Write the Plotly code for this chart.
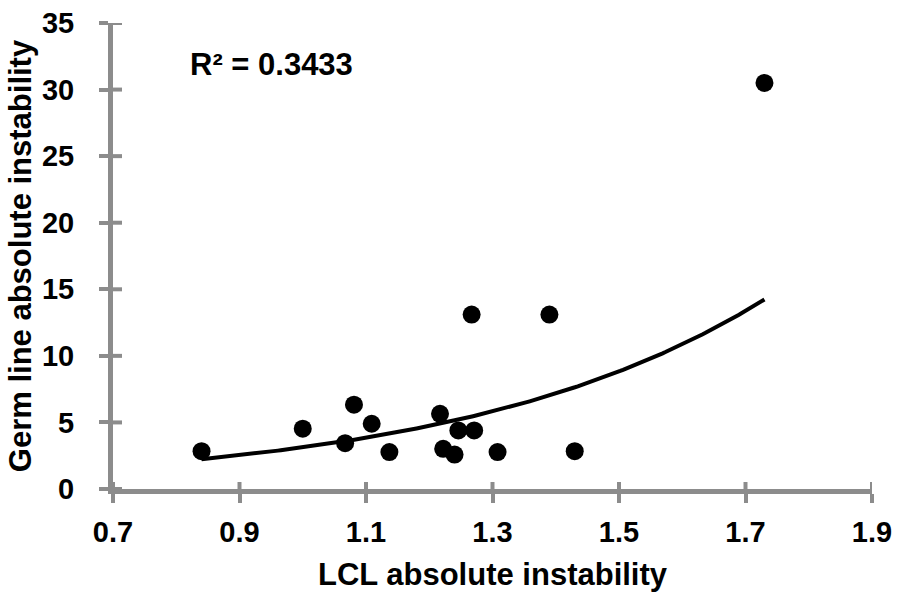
import numpy as np
import plotly.graph_objects as go

# Data
lcl_instability = [0.84, 1.00, 1.067, 1.081, 1.109, 1.137, 1.217, 1.222, 1.240,
                   1.246, 1.267, 1.271, 1.308, 1.390, 1.430, 1.730]
germ_instability = [2.84, 4.53, 3.44, 6.33, 4.90, 2.77, 5.65, 3.02, 2.59,
                    4.40, 13.1, 4.40, 2.77, 13.1, 2.84, 30.5]
r2_label = "R² = 0.3433"
x_ticks = [0.7, 0.9, 1.1, 1.3, 1.5, 1.7, 1.9]
y_ticks = [0, 5, 10, 15, 20, 25, 30, 35]
x_title = "LCL absolute instability"
y_title = "Germ line absolute instability"

# Exponential trendline (Excel style: linear fit of ln(y))
xs = np.array(lcl_instability)
ys = np.array(germ_instability)
b, ln_a = np.polyfit(xs, np.log(ys), 1)
xt = np.linspace(xs.min(), xs.max(), 200)
yt = np.exp(ln_a) * np.exp(b * xt)

FONT = "Liberation Sans"
AXC = "#8c8c8c"
TICKLEN = 9

fig = go.Figure()
fig.add_trace(go.Scatter(x=xt, y=yt, mode="lines",
                         line=dict(color="black", width=4), hoverinfo="skip",
                         showlegend=False))
fig.add_trace(go.Scatter(x=lcl_instability, y=germ_instability, mode="markers",
                         marker=dict(color="black", size=18), showlegend=False))

# inner halves of the crossing tick marks
shapes = []
for xv in x_ticks:
    shapes.append(dict(type="line", xref="x", yref="y", x0=xv, x1=xv,
                       ysizemode="pixel", yanchor=0,
                       y0=-TICKLEN, y1=TICKLEN - 2,
                       line=dict(color=AXC, width=4)))
for yv in y_ticks:
    shapes.append(dict(type="line", xref="x", yref="y", y0=yv, y1=yv,
                       xsizemode="pixel", xanchor=0.7,
                       x0=-TICKLEN, x1=TICKLEN,
                       line=dict(color=AXC, width=4)))

fig.update_layout(
    width=899, height=592,
    margin=dict(l=113, r=27, t=23, b=103),
    paper_bgcolor="white", plot_bgcolor="white",
    font=dict(family=FONT, color="black"),
    shapes=shapes,
    xaxis=dict(range=[0.7, 1.9], tickvals=x_ticks,
               ticktext=[f"{v:.1f}" for v in x_ticks],
               showgrid=False, zeroline=False, automargin=False,
               showline=True, linecolor=AXC, linewidth=5,
               ticks="outside", tickcolor=AXC, tickwidth=4, ticklen=TICKLEN,
               tickfont=dict(size=29, weight="bold", color="black"),
               ticklabelstandoff=4,
               title=dict(text=x_title, standoff=22,
                          font=dict(size=31, weight="bold", color="black"))),
    yaxis=dict(range=[0, 35], tickvals=y_ticks,
               showgrid=False, zeroline=False, automargin=False,
               showline=True, linecolor=AXC, linewidth=5,
               ticks="outside", tickcolor=AXC, tickwidth=4, ticklen=TICKLEN,
               tickfont=dict(size=29, weight="bold", color="black"),
               ticklabelstandoff=19,
               title=dict(text=y_title, standoff=3,
                          font=dict(size=31, weight="bold", color="black"))),
    annotations=[dict(text=r2_label, xref="paper", yref="paper",
                      x=(188 - 113) / 759, y=(488.5 - 64) / 466,
                      xanchor="left", yanchor="middle", showarrow=False,
                      font=dict(size=31, weight="bold", color="black"))],
)

fig.write_html("out.html")
